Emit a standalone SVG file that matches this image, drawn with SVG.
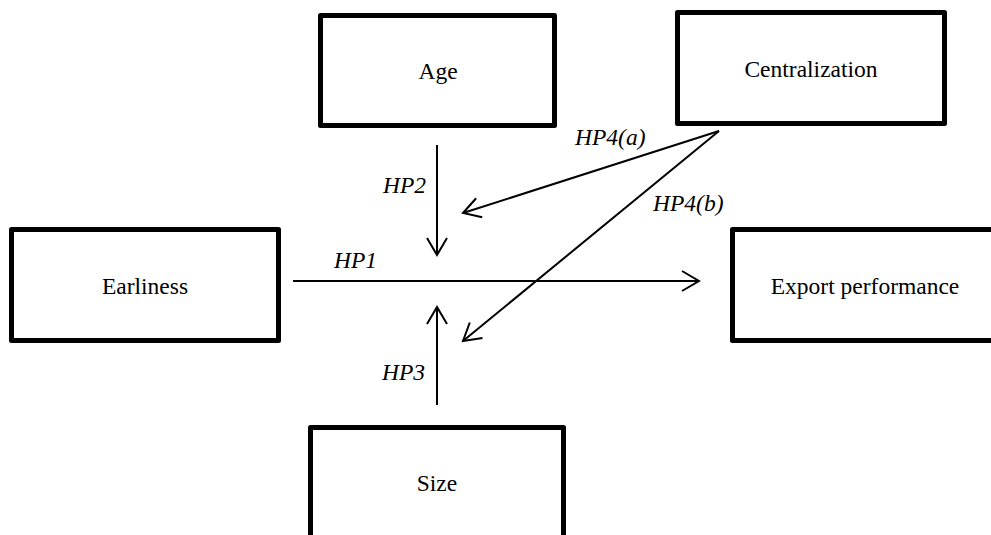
<svg xmlns="http://www.w3.org/2000/svg" width="991" height="535" viewBox="0 0 991 535">
<style>
.box{fill:#fff;stroke:#000;stroke-width:5;stroke-linejoin:round}
.lbl{font-family:"Liberation Serif","Times New Roman",serif;font-size:23.5px;fill:#000;text-anchor:middle}
.hp{font-family:"Liberation Serif","Times New Roman",serif;font-size:23.5px;font-style:italic;fill:#000}
.conn{stroke:#000;stroke-width:2;fill:none}
</style>
<defs>
<marker id="open" markerUnits="userSpaceOnUse" markerWidth="40" markerHeight="40" viewBox="-20 -20 40 40" refX="0" refY="0" orient="auto" overflow="visible">
<path d="M-17,-10 L0,0 L-17,10" fill="none" stroke="#000" stroke-width="2"/>
</marker>
</defs>
<rect width="991" height="535" fill="#fff"/>
<g id="age"><rect class="box" x="320.5" y="15.5" width="234" height="110"/><text class="lbl" x="438" y="79">Age</text></g>
<g id="centralization"><rect class="box" x="677.5" y="12.5" width="267" height="111"/><text class="lbl" x="811" y="77">Centralization</text></g>
<g id="earliness"><rect class="box" x="11.5" y="229.5" width="267" height="111"/><text class="lbl" x="145" y="294">Earliness</text></g>
<g id="export"><rect class="box" x="732.5" y="229.5" width="272" height="111"/><text class="lbl" x="865" y="294">Export performance</text></g>
<g id="size"><rect class="box" x="310.5" y="427.5" width="253" height="120"/><text class="lbl" x="437" y="491">Size</text></g>
<g id="connectors">
<line class="conn" x1="293" y1="281" x2="699" y2="281" marker-end="url(#open)"/>
<line class="conn" x1="437" y1="145" x2="437" y2="255" marker-end="url(#open)"/>
<line class="conn" x1="437" y1="405" x2="437" y2="307" marker-end="url(#open)"/>
<line class="conn" x1="719" y1="131" x2="463" y2="213" marker-end="url(#open)"/>
<line class="conn" x1="719" y1="131" x2="463" y2="341" marker-end="url(#open)"/>
<text class="hp" x="334" y="268">HP1</text>
<text class="hp" x="383" y="193">HP2</text>
<text class="hp" x="382" y="380">HP3</text>
<text class="hp" x="575" y="145">HP4(a)</text>
<text class="hp" x="653" y="211">HP4(b)</text>
</g>
</svg>
